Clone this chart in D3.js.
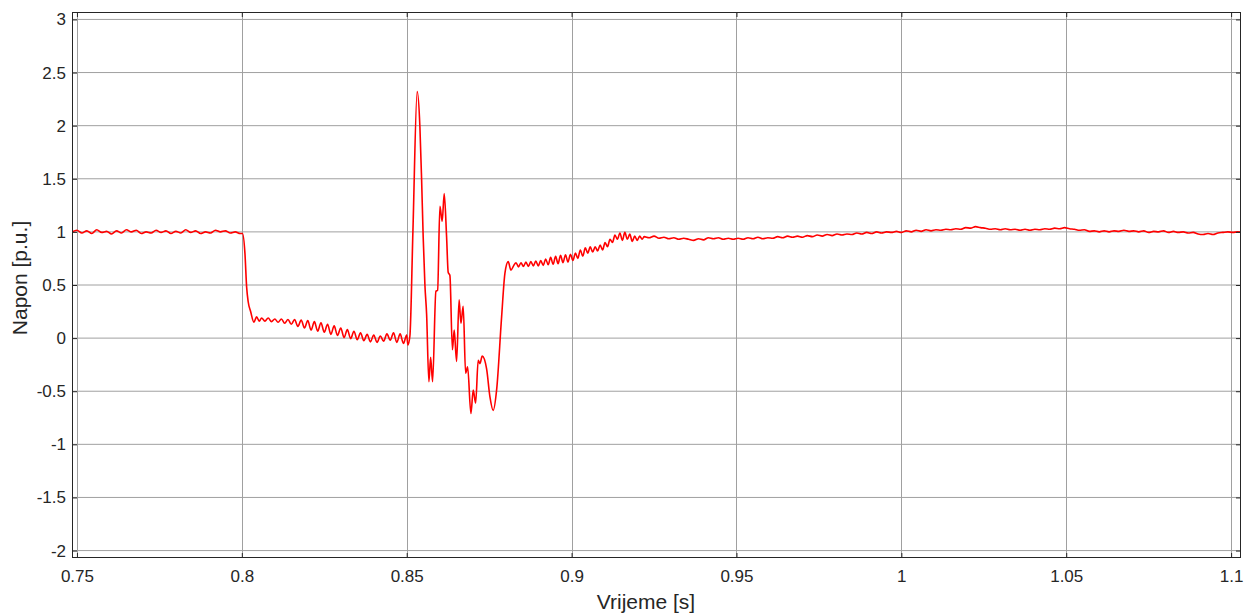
<!DOCTYPE html>
<html><head><meta charset="utf-8">
<script src="https://cdn.jsdelivr.net/npm/d3@7"></script>
<style>
body{margin:0;background:#fff;}
text{font-family:"Liberation Sans",Arial,sans-serif;}
</style></head>
<body><svg id="c" width="1245" height="615"></svg>
<script>
// ---- tick labels ----
const xTicks = [0.75, 0.8, 0.85, 0.9, 0.95, 1, 1.05, 1.1];
const yTicks = [-2, -1.5, -1, -0.5, 0, 0.5, 1, 1.5, 2, 2.5, 3];

// ---- pre-fault (uniformly sampled) ----
const preT0 = 0.7485, preStep = 0.0015;
const preValues = [1.00,1.015,0.99,1.01,0.985,1.02,0.995,1.005,0.98,1.01,
                   0.99,1.02,1.0,1.015,0.985,1.0,0.99,1.015,0.995,1.01,
                   0.985,1.005,0.99,1.02,0.995,1.01,0.985,1.0,0.99,1.015,
                   1.0,1.01,0.99,1.0,0.985];

// ---- voltage dip at fault inception ----
const dipPoints = [[0.8002,0.985],[0.80094,0.80],[0.80146,0.48],[0.80194,0.34],
                   [0.80267,0.25],[0.80367,0.15],[0.80449,0.20],[0.80528,0.16]];

// ---- during fault (uniformly sampled) ----
const faultT0 = 0.806, faultStep = 0.001;
const faultValues = [0.19,0.16,0.19,0.155,0.18,0.15,0.18,0.14,0.175,0.13,
                     0.175,0.11,0.17,0.095,0.165,0.075,0.155,0.065,0.145,0.055,
                     0.13,0.035,0.115,0.025,0.095,0.005,0.08,-0.005,0.065,-0.015,
                     0.05,-0.025,0.035,-0.035,0.03,-0.04,0.02,-0.03,0.04,-0.02,
                     0.05,-0.04,0.04,-0.05,0.03];

// ---- clearing transient ----
const transientPoints = [[0.85036,-0.065],[0.85097,0.02],[0.85188,1.0],[0.85318,2.32],
  [0.85400,1.99],[0.85452,1.49],[0.85500,0.95],[0.85552,0.50],[0.85603,0.23],
  [0.85673,-0.41],[0.85725,-0.18],[0.85785,-0.41],[0.85885,0.44],[0.85937,0.45],
  [0.86007,1.24],[0.86076,1.10],[0.86137,1.36],[0.86210,0.95],[0.86258,0.62],
  [0.86310,0.59],[0.86386,-0.11],[0.86440,0.075],[0.86513,-0.22],[0.86589,0.36],
  [0.86644,0.14],[0.86713,0.30],[0.86786,-0.33],[0.86847,-0.27],[0.86947,-0.71],
  [0.87017,-0.49],[0.87090,-0.61],[0.87168,-0.21],[0.87220,-0.24],[0.87290,-0.17],
  [0.87423,-0.29],[0.87523,-0.55],[0.87623,-0.68],[0.87726,-0.49],[0.87878,0.20],
  [0.87978,0.61],[0.88078,0.72],[0.88160,0.64]];

// ---- recovery (uniformly sampled) ----
const recT0 = 0.8824, recStep = 0.00075;
const recValues = [0.68,0.71,0.67,0.71,0.675,0.715,0.675,0.72,0.68,0.725,
                   0.68,0.73,0.685,0.745,0.69,0.76,0.695,0.77,0.70,0.78,
                   0.71,0.785,0.715,0.79,0.73,0.80,0.75,0.83,0.77,0.85,
                   0.80,0.86,0.81,0.86,0.82,0.875,
                   0.83,0.90,0.86,0.93,0.90,0.97,0.93,0.99,0.92,0.995,
                   0.93,0.98,0.91,0.96,0.92,0.96,0.93];

// ---- post-fault steady state (uniformly sampled) ----
const postT0 = 0.922, postStep = 0.0015;
const postValues = [0.955,0.945,0.96,0.94,0.95,0.935,0.945,0.93,0.94,0.93,
                    0.92,0.935,0.925,0.945,0.935,0.945,0.93,0.94,0.93,0.94,
                    0.93,0.945,0.935,0.95,0.935,0.945,0.94,0.955,0.945,0.96,
                    0.95,0.96,0.95,0.965,0.955,0.97,0.96,0.975,0.965,0.98,
                    0.97,0.98,0.975,0.99,0.98,0.995,0.985,1.0,0.99,1.0,
                    0.995,1.005,0.995,1.01,1.0,1.015,1.005,1.02,1.01,1.02,
                    1.015,1.025,1.02,1.03,1.025,1.04,1.035,1.05,1.04,1.035,
                    1.025,1.03,1.02,1.03,1.02,1.025,1.015,1.025,1.015,1.025,
                    1.02,1.03,1.025,1.035,1.03,1.04,1.03,1.025,1.015,1.02,
                    1.005,1.01,1.0,1.01,1.0,1.01,1.005,1.015,1.005,1.01,
                    1.0,1.01,0.995,1.005,1.0,1.01,0.995,1.005,0.995,1.0,
                    0.99,0.995,0.98,0.975,0.985,0.975,0.99,0.995,1.0,0.995,
                    1.0,0.995];

// ---- assemble ----
const sampled = (t0, dt, vals) => vals.map((v, i) => [t0 + i * dt, v]);
const data = [].concat(
  sampled(preT0, preStep, preValues),
  dipPoints,
  sampled(faultT0, faultStep, faultValues),
  transientPoints,
  sampled(recT0, recStep, recValues),
  sampled(postT0, postStep, postValues)
);

// ---- layout ----
const L = 72, R = 1241, T = 12, B = 558;
const svg = d3.select('#c');
const x = d3.scaleLinear().domain([0.7485, 1.1030]).range([L, R]);
const y = d3.scaleLinear().domain([-2.07, 3.07]).range([B, T]);
const fmt = d => String(d);

// grid
const grid = svg.append('g').attr('stroke', '#a0a0a0').attr('stroke-width', 1);
grid.selectAll('line.v').data(xTicks).enter().append('line')
  .attr('x1', d => Math.round(x(d)) + 0.5).attr('x2', d => Math.round(x(d)) + 0.5)
  .attr('y1', T).attr('y2', B);
grid.selectAll('line.h').data(yTicks).enter().append('line')
  .attr('y1', d => y(d)).attr('y2', d => y(d))
  .attr('x1', L).attr('x2', R);

// clip
svg.append('clipPath').attr('id', 'clip').append('rect')
  .attr('x', L).attr('y', T).attr('width', R - L).attr('height', B - T);

// line
const line = d3.line().x(d => x(d[0])).y(d => y(d[1])).curve(d3.curveMonotoneX);
svg.append('path').datum(data)
  .attr('clip-path', 'url(#clip)')
  .attr('fill', 'none').attr('stroke', '#ff0000').attr('stroke-width', 1.6)
  .attr('stroke-linejoin', 'round')
  .attr('d', line);

// axes
const axColor = '#262626';
function styleAxis(g) {
  g.select('.domain').remove();
  g.selectAll('line').attr('stroke', axColor);
  g.selectAll('text').attr('fill', axColor).style('font-size', '17px');
}
svg.append('g').attr('transform', `translate(0,${B})`)
  .call(d3.axisBottom(x).tickValues(xTicks).tickSize(-5).tickPadding(12).tickFormat(fmt))
  .call(styleAxis);
svg.append('g').attr('transform', `translate(0,${T})`)
  .call(d3.axisTop(x).tickValues(xTicks).tickSize(-5).tickFormat(''))
  .call(styleAxis);
svg.append('g').attr('transform', `translate(${L},0)`)
  .call(d3.axisLeft(y).tickValues(yTicks).tickSize(-5).tickPadding(6).tickFormat(fmt))
  .call(styleAxis);
svg.append('g').attr('transform', `translate(${R},0)`)
  .call(d3.axisRight(y).tickValues(yTicks).tickSize(-5).tickFormat(''))
  .call(styleAxis);

// box
svg.append('rect').attr('x', L + 0.5).attr('y', T + 0.5)
  .attr('width', R - L - 1).attr('height', B - T - 1)
  .attr('fill', 'none').attr('stroke', axColor).attr('stroke-width', 1);

// axis titles
svg.append('text').attr('x', 646).attr('y', 609)
  .attr('text-anchor', 'middle').attr('fill', axColor).style('font-size', '21px')
  .text('Vrijeme [s]');
svg.append('text').attr('transform', `translate(27,${(T + B) / 2 - 7}) rotate(-90)`)
  .attr('text-anchor', 'middle').attr('fill', axColor).style('font-size', '21px')
  .text('Napon [p.u.]');
</script></body></html>
